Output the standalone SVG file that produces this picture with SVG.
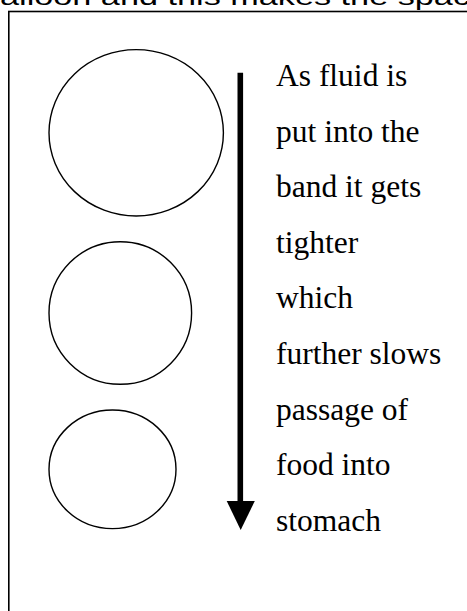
<svg xmlns="http://www.w3.org/2000/svg" width="467" height="611" viewBox="0 0 467 611">
<style>
.ring{fill:none;stroke:#000;stroke-width:1.4}
.lbl{font-family:"Liberation Serif","Times New Roman",serif;font-size:31.5px;fill:#000}
.top{font-family:"Liberation Sans",Arial,sans-serif;font-size:24px;fill:#000}
</style>
<rect width="467" height="611" fill="#fff"/>
<text class="top" x="0" y="5" textLength="470" lengthAdjust="spacingAndGlyphs">alloon and this makes the spac</text>
<rect x="8.8" y="11.5" width="470" height="620" fill="none" stroke="#000" stroke-width="1.6"/>
<g id="circle-large"><ellipse class="ring" cx="136.2" cy="132.8" rx="87.2" ry="83.2"/></g>
<g id="circle-medium"><ellipse class="ring" cx="120.3" cy="313" rx="71.3" ry="71.3"/></g>
<g id="circle-small"><ellipse class="ring" cx="112.5" cy="469.3" rx="63.5" ry="59.3"/></g>
<g id="connectors">
<line x1="240.3" y1="72.7" x2="240.3" y2="503" stroke="#000" stroke-width="5.6"/>
<polygon points="226.7,501 254.8,501 240.7,530" fill="#000"/>
</g>
<g id="label">
<text class="lbl" x="276" y="86">As fluid is</text>
<text class="lbl" x="276" y="141.6">put into the</text>
<text class="lbl" x="276" y="197.2">band it gets</text>
<text class="lbl" x="276" y="252.8">tighter</text>
<text class="lbl" x="276" y="308.4">which</text>
<text class="lbl" x="276" y="364">further slows</text>
<text class="lbl" x="276" y="419.6">passage of</text>
<text class="lbl" x="276" y="475.2">food into</text>
<text class="lbl" x="276" y="530.8">stomach</text>
</g>
</svg>
